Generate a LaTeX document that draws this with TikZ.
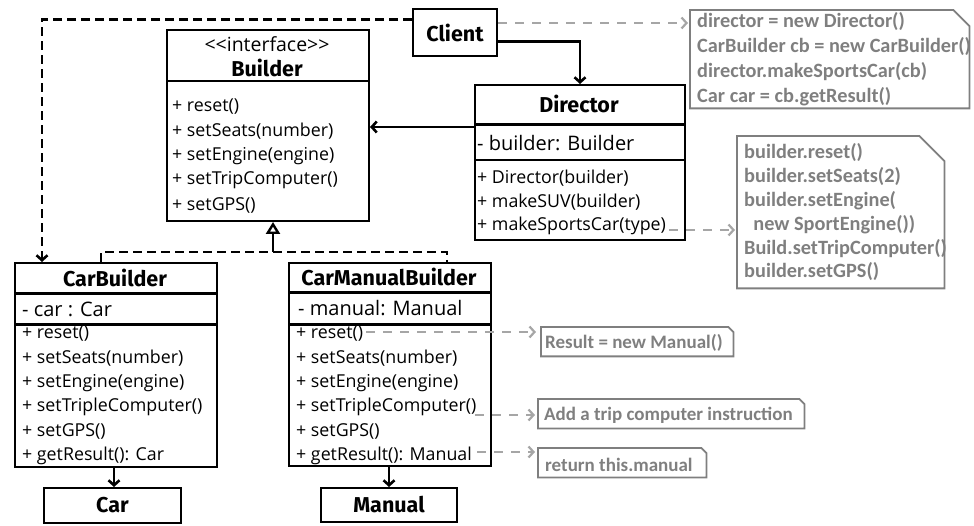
\documentclass[tikz,border=0pt]{standalone}
\usepackage{fontspec}
\setmainfont{Open Sans}
\newfontfamily\hdfont{Fira Sans}
\newfontfamily\notefont{Carlito}
\usetikzlibrary{arrows.meta}
\definecolor{notegray}{HTML}{7F7F7F}
\definecolor{dashgray}{HTML}{A6A6A6}
\newcommand\drawnote[2]{\draw[noteline] (#1.north west) -- ([xshift=-#2]#1.north east) -- ([yshift=-#2]#1.north east) -- (#1.south east) -- (#1.south west) -- cycle;}
\begin{document}
\begin{tikzpicture}[x=1pt,y=-1pt,
  box/.style={draw, line width=2pt, inner sep=0pt, anchor=north west},
  hbox/.style={box, font=\hdfont\bfseries\fontsize{21.5}{25}\selectfont},
  mtext/.style={anchor=west, inner sep=0pt, font=\fontsize{17.8}{20}\selectfont},
  ftext/.style={anchor=west, inner sep=0pt, font=\fontsize{20}{22}\selectfont},
  htext/.style={inner sep=0pt, font=\hdfont\bfseries\fontsize{21.5}{25}\selectfont},
  itext/.style={inner sep=0pt, font=\fontsize{19.5}{22}\selectfont},
  ntext/.style={anchor=west, inner sep=0pt, text=notegray, font=\notefont\bfseries\fontsize{20.3}{24}\selectfont},
  stext/.style={ntext, font=\notefont\bfseries\fontsize{19}{22}\selectfont},
  notebox/.style={inner sep=0pt, anchor=north west},
  noteline/.style={draw=notegray, line width=1.8pt},
  divider/.style={line width=2pt},
  thickdiv/.style={line width=3pt},
  arr/.style={line width=2.6pt, -{Straight Barb[length=5pt,width=11pt]}},
  dasharr/.style={arr, dash pattern=on 9pt off 5pt},
  garr/.style={line width=2.2pt, draw=dashgray, dash pattern=on 9pt off 8pt, -{Straight Barb[length=5pt,width=11pt]}},
  inhline/.style={line width=2.6pt, dash pattern=on 9pt off 5pt},
  inharr/.style={line width=2.4pt, -{Triangle[open,length=12pt,width=14pt]}}
]
\useasboundingbox (0,0) rectangle (974,526);

% Client
\node[hbox, minimum width=84pt, minimum height=47pt] (client) at (412,8) {Client};

% Builder
\node[box, minimum width=202pt, minimum height=191pt] (builder) at (166,29) {};
\draw[divider] (builder.west |- 0,81) -- (builder.east |- 0,81);
\node[itext] (bint) at (267,44) {{<}{<}interface{>}{>}};
\node[htext] (bname) at (267,68) {Builder};
\foreach \t [count=\i from 0] in {+ reset(), + setSeats(number), + setEngine(engine), + setTripComputer(), + setGPS()}
  \node[mtext] (bm\i) at (172,{107+24.5*\i}) {\t};

% Director
\node[box, minimum width=210pt, minimum height=155pt] (director) at (474,84) {};
\draw[thickdiv] (director.west |- 0,125) -- (director.east |- 0,125);
\draw[divider] (director.west |- 0,160) -- (director.east |- 0,160);
\node[htext] (dname) at (579,104) {Director};
\node[ftext] (dfield) at (477,143) {- builder: Builder};
\foreach \t [count=\i from 0] in {+ Director(builder), + makeSUV(builder), + makeSportsCar(type)}
  \node[mtext] (dm\i) at (477,{178+24*\i}) {\t};

% CarBuilder
\node[box, minimum width=202pt, minimum height=204pt] (carbuilder) at (14,262) {};
\draw[thickdiv] (carbuilder.west |- 0,294) -- (carbuilder.east |- 0,294);
\draw[thickdiv] (carbuilder.west |- 0,325) -- (carbuilder.east |- 0,325);
\node[htext] (cbname) at (115,278) {CarBuilder};
\node[ftext] (cbfield) at (22,309) {- car : Car};
\foreach \t [count=\i from 0] in {+ reset(), + setSeats(number), + setEngine(engine), + setTripleComputer(), + setGPS(), + getResult(): Car}
  \node[mtext] (cbm\i) at (22,{334+24.4*\i}) {\t};

% CarManualBuilder
\node[box, minimum width=202pt, minimum height=203pt] (cmb) at (288,262) {};
\draw[thickdiv] (cmb.west |- 0,293) -- (cmb.east |- 0,293);
\draw[thickdiv] (cmb.west |- 0,325) -- (cmb.east |- 0,325);
\node[htext] (cmname) at (389,277) {CarManualBuilder};
\node[ftext] (cmfield) at (298,308) {- manual: Manual};
\foreach \t [count=\i from 0] in {+ reset(), + setSeats(number), + setEngine(engine), + setTripleComputer(), + setGPS(), + getResult(): Manual}
  \node[mtext] (cmm\i) at (296,{334+24.4*\i}) {\t};

% Products
\node[hbox, minimum width=137pt, minimum height=35pt] (car) at (43,487) {Car};
\node[hbox, minimum width=136pt, minimum height=34pt] (manual) at (320,487) {Manual};

% Notes
\node[notebox, minimum width=279pt, minimum height=98pt] (note1) at (690,10) {};
\drawnote{note1}{16pt}
\foreach \t [count=\i from 0] in {director = new Director(), CarBuilder cb = new CarBuilder(), director.makeSportsCar(cb), Car car = cb.getResult()}
  \node[ntext] (n1l\i) at (697,{22+25*\i}) {\t};

\node[notebox, minimum width=207pt, minimum height=152pt] (note2) at (737,136) {};
\drawnote{note2}{25pt}
\foreach \t [count=\i from 0] in {builder.reset(), builder.setSeats(2), builder.setEngine(, \ \ new SportEngine()), Build.setTripComputer(), builder.setGPS()}
  \node[ntext] (n2l\i) at (744,{153+23.8*\i}) {\t};

\node[notebox, minimum width=192pt, minimum height=29pt] (note3) at (541,327) {};
\drawnote{note3}{5pt}
\node[stext] (n3l) at (545,343) {Result = new Manual()};

\node[notebox, minimum width=266pt, minimum height=29pt] (note4) at (538,399) {};
\drawnote{note4}{5pt}
\node[stext] (n4l) at (544,415) {Add a trip computer instruction};

\node[notebox, minimum width=168pt, minimum height=29pt] (note5) at (538,448) {};
\drawnote{note5}{5pt}
\node[stext] (n5l) at (545,465) {return this.manual};

% Connectors
\draw[arr] ([yshift=-9pt]client.east) -| (director.north);
\draw[dasharr] ([yshift=13pt]client.west) -| ([xshift=28pt]carbuilder.north west);
\coordinate (c1) at ([yshift=9.5pt]client.east);
\draw[garr, shorten >=2pt] (c1) -- (c1 -| note1.west);

\coordinate (d1) at (director.west |- 0,127);
\draw[arr] (d1) -- (d1 -| builder.east);
\coordinate (d2) at (dm2.east |- 0,230);
\draw[garr, shorten >=2pt] ([xshift=3pt]d2) -- (d2 -| note2.west);

\coordinate (inh) at (273,252);
\draw[inhline] ([xshift=87pt]carbuilder.north west) |- (inh) -| ([xshift=159pt]cmb.north west);
\draw[inharr] (inh) -- (builder.south -| inh);

\draw[arr] (carbuilder.south -| 114,0) -- (car.north -| 114,0);
\draw[arr] (cmb.south -| 389,0) -- (manual.north -| 389,0);

\coordinate (m1) at (cmm0.east |- 0,332);
\draw[garr, shorten >=5pt] ([xshift=3pt]m1) -- (m1 -| note3.west);
\coordinate (m2) at (475,415);
\draw[garr, shorten >=3pt] (m2) -- (m2 -| note4.west);
\coordinate (m3) at (477,452);
\draw[garr, shorten >=3pt] (m3) -- (m3 -| note5.west);
\end{tikzpicture}
\end{document}
